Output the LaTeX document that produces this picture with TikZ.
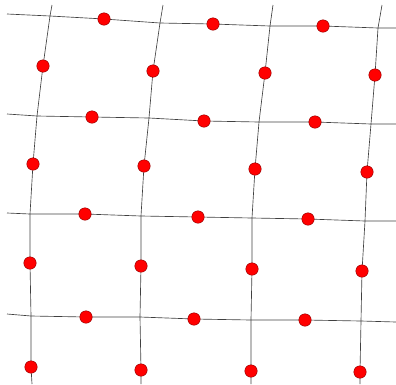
\documentclass[tikz,border=0pt]{standalone}
\usepackage{tikz}

\tikzset{
    gridline/.style={black!75, line width=0.65pt},
    dot/.style={circle, fill=red, draw=red!55!black, line width=0.4pt, inner sep=0pt, minimum size=12.5pt}
}

\begin{document}
\begin{tikzpicture}[x=1pt, y=-1pt]
    \useasboundingbox (0,0) rectangle (396,384);

    % Line ends
    \foreach \n/\x/\y in {hl1/7/14, hr1/396/28, hl2/7/114, hr2/396/124,
                          hl3/7/213, hr3/396/221, hl4/7/314, hr4/396/322,
                          vt1/52/5, vb1/32/384, vt2/163/5, vb2/141/384,
                          vt3/273/5, vb3/251/384, vt4/382/5, vb4/360/384}
        \coordinate (\n) at (\x,\y);

    % Crossings
    \foreach \n/\x/\y in {k11/50/16, k12/160/23, k13/270/26, k14/378/28,
                          k21/37/116, k22/149/118, k23/259/122, k24/371/124,
                          k31/30/214, k32/141/216, k33/252/218, k34/365/221,
                          k41/31/316, k42/140/317, k43/251/320, k44/361/321}
        \coordinate (\n) at (\x,\y);

    % Dots on the horizontal lines
    \foreach \n/\x/\y in {hd11/104/19, hd12/213/24, hd13/323/26,
                          hd21/92/117, hd22/204/121, hd23/315/122,
                          hd31/85/214, hd32/198/217, hd33/308/219,
                          hd41/86/317, hd42/194/319, hd43/305/320}
        \coordinate (\n) at (\x,\y);

    % Dots on the vertical lines
    \foreach \n/\x/\y in {vd11/43/66, vd12/33/164, vd13/30/263, vd14/31/367,
                          vd21/153/71, vd22/144/166, vd23/141/266, vd24/141/370,
                          vd31/265/73, vd32/255/169, vd33/252/269, vd34/251/371,
                          vd41/375/75, vd42/367/172, vd43/362/271, vd44/360/372}
        \coordinate (\n) at (\x,\y);

    % Horizontal lines
    \foreach \r in {1,...,4} {
        \draw[gridline] (hl\r) -- (k\r1) -- (hd\r1) -- (k\r2) -- (hd\r2)
            -- (k\r3) -- (hd\r3) -- (k\r4) -- (hr\r);
    }

    % Vertical lines
    \foreach \c in {1,...,4} {
        \draw[gridline] (vt\c) -- (k1\c) -- (vd\c1) -- (k2\c) -- (vd\c2)
            -- (k3\c) -- (vd\c3) -- (k4\c) -- (vd\c4) -- (vb\c);
    }

    % Red dots
    \foreach \p in {hd11,hd12,hd13,hd21,hd22,hd23,hd31,hd32,hd33,hd41,hd42,hd43,
                    vd11,vd12,vd13,vd14,vd21,vd22,vd23,vd24,
                    vd31,vd32,vd33,vd34,vd41,vd42,vd43,vd44}
        \node[dot] (dot-\p) at (\p) {};
\end{tikzpicture}
\end{document}
